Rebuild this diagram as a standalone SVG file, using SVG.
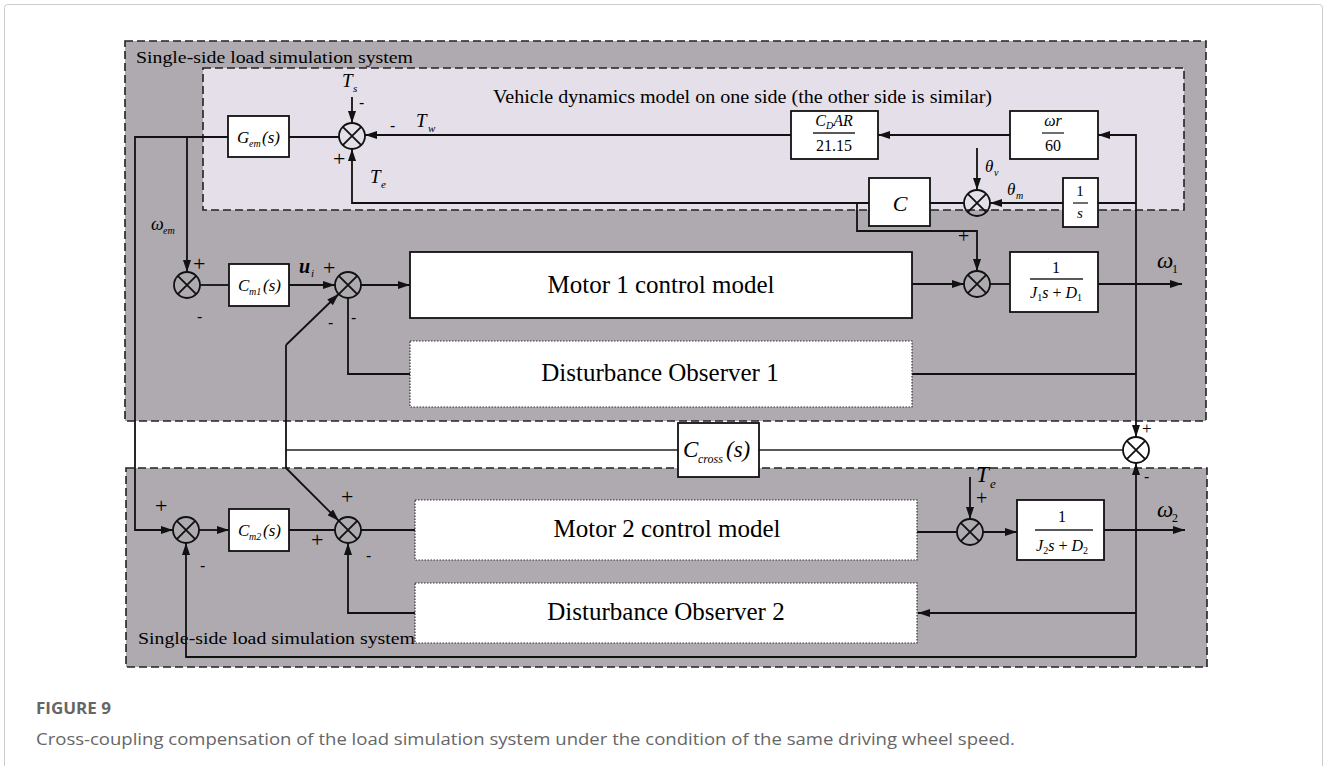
<svg xmlns="http://www.w3.org/2000/svg" width="1328" height="766" viewBox="0 0 1328 766">
<style>
.ln{fill:none;stroke:#111;stroke-width:1.8}
.thin{fill:none;stroke:#222;stroke-width:1.3}
.box{fill:#fff;stroke:#111;stroke-width:1.8}
.dot{fill:#fff;stroke:#333;stroke-width:1.2;stroke-dasharray:1.5 1.5}
.dash{stroke:#222;stroke-width:1.6;stroke-dasharray:8 4}
.sum{fill:none;stroke:#111;stroke-width:1.8}
.t{font-family:"Liberation Serif",serif;fill:#000}
.m{font-family:"Liberation Serif",serif;font-style:italic;fill:#000}
.sg{font-family:"Liberation Sans",sans-serif;fill:#000;font-size:16px}
.cap{font-family:"Open Sans",sans-serif;fill:#666}
</style>
<defs>
<marker id="ah" viewBox="0 0 12 8" refX="12" refY="4" markerWidth="12" markerHeight="8" markerUnits="userSpaceOnUse" orient="auto"><path d="M0,0 L12,4 L0,8 z" fill="#111"/></marker>
<g id="sx"><circle r="13" class="sum"/><path d="M-9.2,-9.2 L9.2,9.2 M-9.2,9.2 L9.2,-9.2" class="ln"/></g>
</defs>
<rect x="4.5" y="4.5" width="1318" height="800" rx="3" fill="#fff" stroke="#ccc" stroke-width="1"/>

<g id="regions">
<rect x="125" y="41" width="1081" height="380" fill="#aeaab0" class="dash"/>
<rect x="203" y="68" width="981" height="142" fill="#e4dfe8" class="dash"/>
<rect x="126" y="468" width="1081" height="199" fill="#aeaab0" class="dash"/>
<text class="t" x="136" y="63" font-size="17" textLength="277" lengthAdjust="spacingAndGlyphs">Single-side load simulation system</text>
<text class="t" x="493" y="103" font-size="18" textLength="499" lengthAdjust="spacingAndGlyphs">Vehicle dynamics model on one side (the other side is similar)</text>
<text class="t" x="138" y="644" font-size="17" textLength="277" lengthAdjust="spacingAndGlyphs">Single-side load simulation system</text>
</g>

<g id="connectors">
<path class="ln" d="M339,137 H135 V530 H173" marker-end="url(#ah)"/>
<path class="ln" d="M187,137 V272" marker-end="url(#ah)"/>
<path class="ln" d="M352,97 V123" marker-end="url(#ah)"/>
<path class="ln" d="M791,135 H365" marker-end="url(#ah)"/>
<path class="ln" d="M869,203 H352 V149" marker-end="url(#ah)"/>
<path class="ln" d="M857,203 V231 H977 V271" marker-end="url(#ah)"/>
<path class="ln" d="M977,148 V190" marker-end="url(#ah)"/>
<path class="ln" d="M1063,203 H990" marker-end="url(#ah)"/>
<path class="ln" d="M964,203 H930"/>
<path class="ln" d="M1098,203 H1136"/>
<path class="ln" d="M1136,284 V135 H1098" marker-end="url(#ah)"/>
<path class="ln" d="M1136,284 V437" marker-end="url(#ah)"/>
<path class="ln" d="M1010,135 H878" marker-end="url(#ah)"/>
<path class="ln" d="M200,285 H229"/>
<path class="ln" d="M289,285 H335" marker-end="url(#ah)"/>
<path class="ln" d="M361,285 H410" marker-end="url(#ah)"/>
<path class="ln" d="M410,374 H348 V298"/>
<path class="ln" d="M912,284 H964" marker-end="url(#ah)"/>
<path class="ln" d="M990,284 H1010"/>
<path class="ln" d="M1098,284 H1182" marker-end="url(#ah)"/>
<path class="ln" d="M912,374 H1136"/>
<path class="thin" d="M1123,450 H286"/>
<path class="ln" d="M286,345 V468"/>
<path class="ln" d="M286,345 L338.7,294" marker-end="url(#ah)"/>
<path class="ln" d="M286,468 L338.8,520.8" marker-end="url(#ah)"/>
<path class="ln" d="M199,530 H229" marker-end="url(#ah)"/>
<path class="ln" d="M289,530 H335"/>
<path class="ln" d="M361,530 H415"/>
<path class="ln" d="M415,613 H348 V543" marker-end="url(#ah)"/>
<path class="ln" d="M917,532 H957"/>
<path class="ln" d="M970,477 V519" marker-end="url(#ah)"/>
<path class="ln" d="M983,532 H1017" marker-end="url(#ah)"/>
<path class="ln" d="M1104,530 H1185" marker-end="url(#ah)"/>
<path class="ln" d="M1136,657 H186 V543" marker-end="url(#ah)"/>
<path class="ln" d="M1136,657 V463" marker-end="url(#ah)"/>
<path class="ln" d="M1136,613 H918" marker-end="url(#ah)"/>
</g>

<g id="sum-torque"><use href="#sx" x="352" y="136"/>
<text class="m" x="342" y="87" font-size="19">T</text><text class="m" x="353" y="92" font-size="11">s</text>
<text class="sg" x="359" y="108" font-size="14">-</text>
<text class="sg" x="390" y="131">-</text>
<text class="m" x="416" y="127" font-size="19">T</text><text class="m" x="428" y="132" font-size="11">w</text>
<text class="t" x="333" y="166" font-size="22">+</text>
<text class="m" x="370" y="183" font-size="19">T</text><text class="m" x="381" y="188" font-size="11">e</text>
</g>
<g id="Gem"><rect class="box" x="228" y="116" width="61" height="41"/>
<text class="m" x="237" y="143" font-size="17">G</text><text class="m" x="249" y="147" font-size="10">em</text><text class="m" x="262" y="143" font-size="17">(s)</text></g>
<g id="CDAR"><rect class="box" x="791" y="111" width="87" height="48"/>
<text class="m" x="834" y="126" font-size="16" text-anchor="middle">C<tspan font-size="10" dy="3">D</tspan><tspan dy="-3">AR</tspan></text>
<path class="thin" d="M813,133 H855"/>
<text class="t" x="834" y="151" font-size="16" text-anchor="middle">21.15</text></g>
<g id="wr60"><rect class="box" x="1010" y="111" width="88" height="48"/>
<text class="m" x="1053" y="126" font-size="16" text-anchor="middle">ωr</text>
<path class="thin" d="M1042,133 H1064"/>
<text class="t" x="1053" y="151" font-size="16" text-anchor="middle">60</text></g>
<g id="Cbox"><rect class="box" x="869" y="178" width="61" height="48"/>
<text class="m" x="900" y="211" font-size="22" text-anchor="middle">C</text></g>
<g id="sum-theta"><use href="#sx" x="977" y="203"/>
<text class="m" x="985" y="172" font-size="17">θ</text><text class="m" x="994" y="176" font-size="10">v</text>
<text class="m" x="1007" y="195" font-size="17">θ</text><text class="m" x="1016" y="199" font-size="10">m</text></g>
<g id="integ"><rect class="box" x="1063" y="178" width="35" height="49"/>
<text class="t" x="1080" y="196" font-size="15" text-anchor="middle">1</text>
<path class="thin" d="M1073,203 H1088"/>
<text class="m" x="1080" y="218" font-size="15" text-anchor="middle">s</text></g>

<g id="sum-speed1"><use href="#sx" x="187" y="285"/>
<text class="m" x="151" y="230" font-size="18">ω</text><text class="m" x="163" y="234" font-size="10">em</text>
<text class="t" x="193" y="271" font-size="22">+</text>
<text class="sg" x="197" y="322">-</text></g>
<g id="Cm1"><rect class="box" x="229" y="264" width="60" height="42"/>
<text class="m" x="238" y="291" font-size="17">C</text><text class="m" x="249" y="295" font-size="10">m1</text><text class="m" x="263" y="291" font-size="17">(s)</text></g>
<g id="sum-u1"><use href="#sx" x="348" y="285"/>
<text class="m" x="299" y="273" font-size="20" font-weight="bold">u</text><text class="m" x="311" y="277" font-size="11">i</text>
<text class="t" x="323" y="275" font-size="22">+</text>
<text class="sg" x="328" y="328">-</text>
<text class="sg" x="351" y="323">-</text></g>
<g id="motor1"><rect class="box" x="410" y="252" width="502" height="66"/>
<text class="t" x="661" y="293" font-size="25" text-anchor="middle">Motor 1 control model</text></g>
<g id="do1"><rect class="dot" x="410" y="341" width="502" height="66"/>
<text class="t" x="660" y="381" font-size="25" text-anchor="middle">Disturbance Observer 1</text></g>
<g id="sum-plant1"><use href="#sx" x="977" y="284"/>
<text class="t" x="958" y="243" font-size="20">+</text></g>
<g id="J1"><rect class="box" x="1010" y="252" width="88" height="60"/>
<text class="t" x="1056" y="273" font-size="16" text-anchor="middle">1</text>
<path class="thin" d="M1030,279 H1083"/>
<text class="m" x="1056" y="298" font-size="16" text-anchor="middle">J<tspan font-size="10" dy="3" font-style="normal">1</tspan><tspan dy="-3">s</tspan><tspan font-style="normal"> + </tspan>D<tspan font-size="10" dy="3" font-style="normal">1</tspan></text></g>
<text class="m" x="1157" y="268" font-size="23">ω</text><text class="t" x="1172" y="273" font-size="12">1</text>

<g id="sum-cross"><use href="#sx" x="1136" y="450"/>
<text class="t" x="1142" y="434" font-size="17">+</text>
<text class="sg" x="1144" y="482">-</text></g>
<g id="Ccross"><rect class="box" x="678" y="423" width="81" height="54"/>
<text class="m" x="683" y="457" font-size="23">C</text><text class="m" x="698" y="463" font-size="12">cross</text><text class="m" x="726" y="457" font-size="23">(s)</text></g>

<g id="sum-speed2"><use href="#sx" x="186" y="530"/>
<text class="t" x="155" y="513" font-size="22">+</text>
<text class="sg" x="200" y="571">-</text></g>
<g id="Cm2"><rect class="box" x="229" y="509" width="60" height="42"/>
<text class="m" x="238" y="536" font-size="17">C</text><text class="m" x="249" y="540" font-size="10">m2</text><text class="m" x="263" y="536" font-size="17">(s)</text></g>
<g id="sum-u2"><use href="#sx" x="348" y="530"/>
<text class="t" x="341" y="504" font-size="22">+</text>
<text class="t" x="311" y="547" font-size="22">+</text>
<text class="sg" x="366" y="561">-</text></g>
<g id="motor2"><rect class="dot" x="415" y="500" width="502" height="60"/>
<text class="t" x="667" y="537" font-size="25" text-anchor="middle">Motor 2 control model</text></g>
<g id="do2"><rect class="dot" x="415" y="583" width="502" height="60"/>
<text class="t" x="666" y="620" font-size="25" text-anchor="middle">Disturbance Observer 2</text></g>
<g id="sum-plant2"><use href="#sx" x="970" y="532"/>
<text class="m" x="976" y="482" font-size="23">T</text><text class="m" x="990" y="488" font-size="13">e</text>
<text class="t" x="976" y="505" font-size="20">+</text></g>
<g id="J2"><rect class="box" x="1017" y="500" width="87" height="60"/>
<text class="t" x="1062" y="522" font-size="16" text-anchor="middle">1</text>
<path class="thin" d="M1035,530 H1093"/>
<text class="m" x="1062" y="551" font-size="16" text-anchor="middle">J<tspan font-size="10" dy="3" font-style="normal">2</tspan><tspan dy="-3">s</tspan><tspan font-style="normal"> + </tspan>D<tspan font-size="10" dy="3" font-style="normal">2</tspan></text></g>
<text class="m" x="1157" y="517" font-size="23">ω</text><text class="t" x="1172" y="522" font-size="12">2</text>

<g id="caption">
<text class="cap" x="36" y="714" font-size="16" font-weight="bold" textLength="75" lengthAdjust="spacingAndGlyphs">FIGURE 9</text>
<text class="cap" x="36" y="745" font-size="17" textLength="979" lengthAdjust="spacingAndGlyphs">Cross-coupling compensation of the load simulation system under the condition of the same driving wheel speed.</text>
</g>
</svg>
